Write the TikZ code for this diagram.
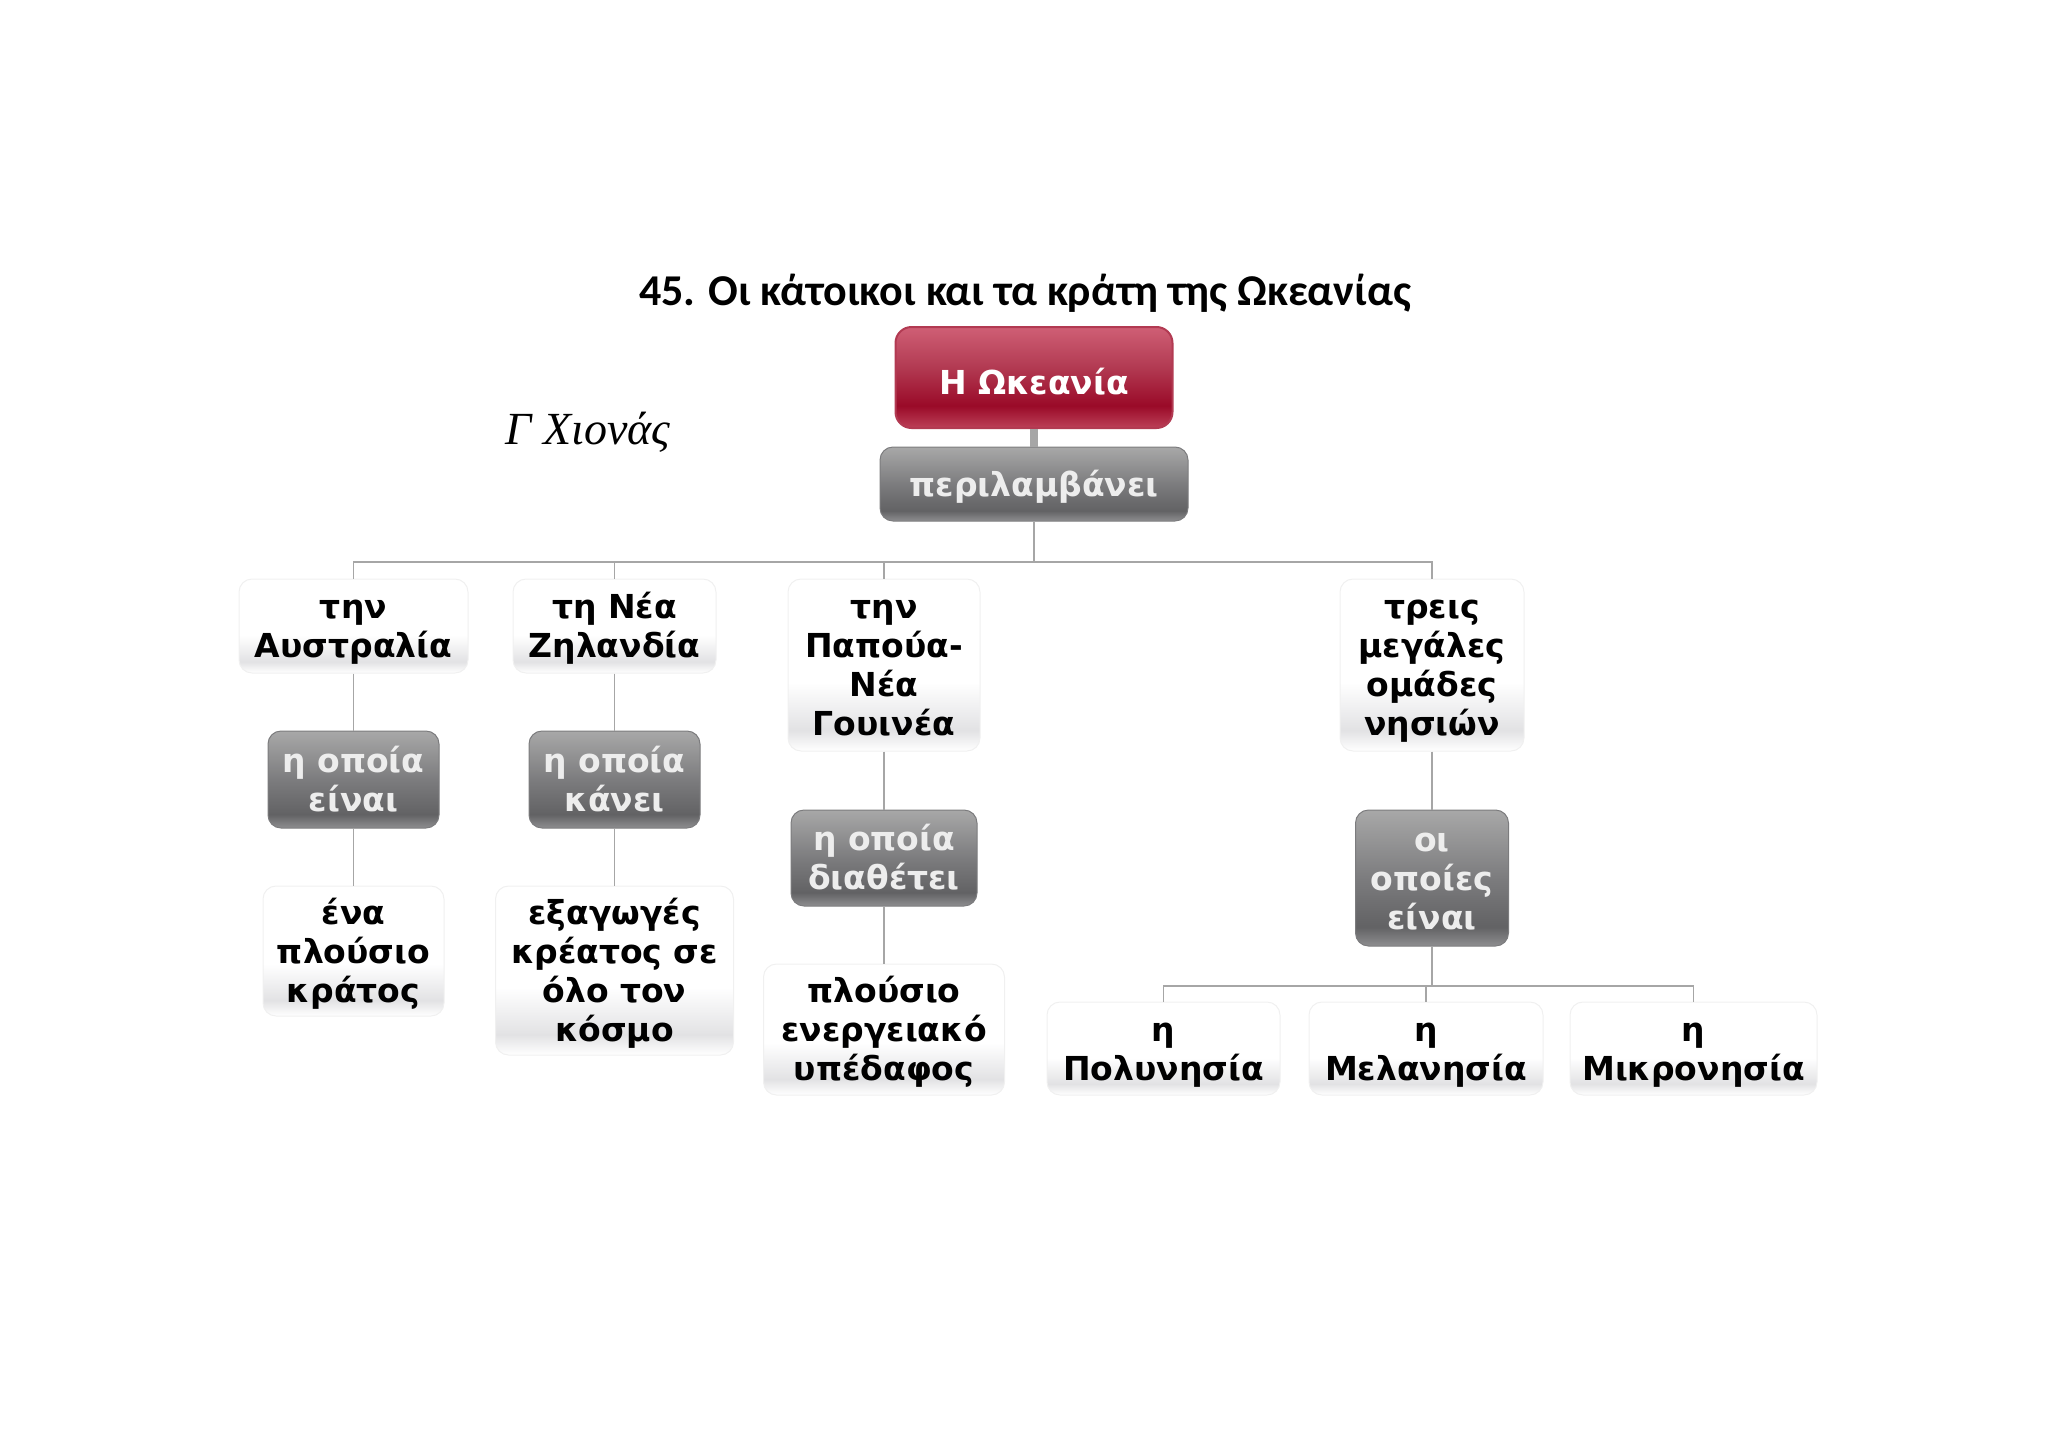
\documentclass[tikz,border=0pt]{standalone}
\usepackage{fontspec}
\usepackage{xcolor}
\setmainfont{DejaVu Sans}
\newfontfamily\titlefont{Carlito}
\newfontfamily\signfont{Liberation Serif}
\usetikzlibrary{positioning}
\definecolor{paleline}{HTML}{F0F0F0}
\definecolor{paleB}{HTML}{E2E2E4}
\definecolor{greyT}{HTML}{A8A8A8}
\definecolor{greyM}{HTML}{7C7C7E}
\definecolor{greyD}{HTML}{626264}
\definecolor{greyB}{HTML}{8E8E90}
\definecolor{redT}{HTML}{CF5F75}
\definecolor{redM}{HTML}{B23A52}
\definecolor{redD}{HTML}{9A0A28}
\definecolor{redB}{HTML}{BC4058}
\definecolor{linkgrey}{HTML}{A6A6A6}
\pgfdeclareverticalshading{paleshade}{100bp}{color(0bp)=(white); color(25bp)=(white); color(31bp)=(paleB); color(45bp)=(white); color(75bp)=(white); color(100bp)=(white)}
\pgfdeclareverticalshading{greyshade}{100bp}{color(0bp)=(greyB); color(25bp)=(greyB); color(32bp)=(greyD); color(50bp)=(greyM); color(75bp)=(greyT); color(100bp)=(greyT)}
\pgfdeclareverticalshading{redshade}{100bp}{color(0bp)=(redB); color(25bp)=(redB); color(36bp)=(redD); color(55bp)=(redM); color(75bp)=(redT); color(100bp)=(redT)}
\newcommand{\toprow}{\rule{0pt}{32pt}}

\begin{document}
\begin{tikzpicture}[x=1pt,y=-1pt,on grid,every node/.style={align=center,inner sep=0pt}]
    \tikzstyle{boxtext}=[font=\bfseries\fontsize{33}{39}\selectfont,text depth=8pt]
    \tikzstyle{answer}=[boxtext,shape=rectangle,rounded corners=13pt,shade,shading=paleshade,draw=paleline,line width=1pt,text=black]
    \tikzstyle{verb}=[boxtext,shape=rectangle,rounded corners=13pt,shade,shading=greyshade,draw=greyM,line width=1pt,text=white!93!black]
    \tikzstyle{topic}=[font=\bfseries\fontsize{33}{39}\selectfont,shape=rectangle,rounded corners=16pt,shade,shading=redshade,draw=redM,line width=2pt,text=white]
    \tikzstyle{link}=[draw=linkgrey,line width=1.8pt]

    \useasboundingbox (0,0) rectangle (2048,1448);

    \node[font=\titlefont\bfseries\fontsize{44}{48}\selectfont] (title) at (1025,293) {45. Οι κάτοικοι και τα κράτη της Ωκεανίας};
    \node[font=\signfont\itshape\fontsize{46}{46}\selectfont] (sign) at (588,432) {Γ Χιονάς};

    \node[topic, minimum width=277pt, minimum height=101pt] (oceania) at (1034,377.5) {\rule{0pt}{34pt}Η Ωκεανία};
    \node[verb, below of=oceania, node distance=106.5pt, minimum width=308pt, minimum height=74pt] (includes) {\toprow περιλαμβάνει};
    \coordinate[below of=includes, node distance=78pt] (topbus);

    \node[answer, minimum width=229pt, minimum height=94pt] (australia) at (353.5,626) {\toprow την\\Αυστραλία};
    \node[answer, right of=australia, node distance=261pt, minimum width=203pt, minimum height=94pt] (zealand) {\toprow τη Νέα\\Ζηλανδία};
    \node[answer, minimum width=192pt, minimum height=172pt] (papua) at (884,665) {\toprow την\\Παπούα-\\Νέα\\Γουινέα};
    \node[answer, right of=papua, node distance=548pt, minimum width=184pt, minimum height=172pt] (groups) {\toprow τρεις\\μεγάλες\\ομάδες\\νησιών};

    \node[verb, below of=australia, node distance=153.5pt, minimum width=171pt, minimum height=97pt] (isA) {\toprow η οποία\\είναι};
    \node[verb, below of=zealand, node distance=153.5pt, minimum width=171pt, minimum height=97pt] (makes) {\toprow η οποία\\κάνει};
    \node[verb, below of=papua, node distance=193pt, minimum width=186pt, minimum height=96pt] (owns) {\toprow η οποία\\διαθέτει};
    \node[verb, below of=groups, node distance=213pt, minimum width=153pt, minimum height=136pt] (areB) {\toprow οι\\οποίες\\είναι};

    \node[answer, below of=isA, node distance=171.5pt, minimum width=181pt, minimum height=130pt] (rich) {\toprow ένα\\πλούσιο\\κράτος};
    \node[answer, below of=makes, node distance=191pt, minimum width=238pt, minimum height=169pt] (exports) {\toprow εξαγωγές\\κρέατος σε\\όλο τον\\κόσμο};
    \node[answer, below of=owns, node distance=171.5pt, minimum width=241pt, minimum height=131pt] (energy) {\toprow πλούσιο\\ενεργειακό\\υπέδαφος};

    \coordinate[below of=areB, node distance=108pt] (lowbus);
    \node[answer, minimum width=233pt, minimum height=93pt] (poly) at (1163.5,1048.5) {\toprow η\\Πολυνησία};
    \node[answer, right of=poly, node distance=262.5pt, minimum width=234pt, minimum height=93pt] (mela) {\toprow η\\Μελανησία};
    \node[answer, right of=mela, node distance=267.5pt, minimum width=247pt, minimum height=93pt] (micro) {\toprow η\\Μικρονησία};

    \draw[link, line width=8pt] (oceania) -- (includes);
    \path[link]
    (includes) -- (topbus)
    (australia.north) |- (topbus)
    (zealand.north) |- (topbus)
    (papua.north) |- (topbus)
    (groups.north) |- (topbus)
    (australia) -- (isA)
    (isA) -- (rich)
    (zealand) -- (makes)
    (makes) -- (exports)
    (papua) -- (owns)
    (owns) -- (energy)
    (groups) -- (areB)
    (areB) -- (lowbus)
    (poly.north) |- (lowbus)
    (mela.north) |- (lowbus)
    (micro.north) |- (lowbus)
   ;
\end{tikzpicture}
\end{document}
